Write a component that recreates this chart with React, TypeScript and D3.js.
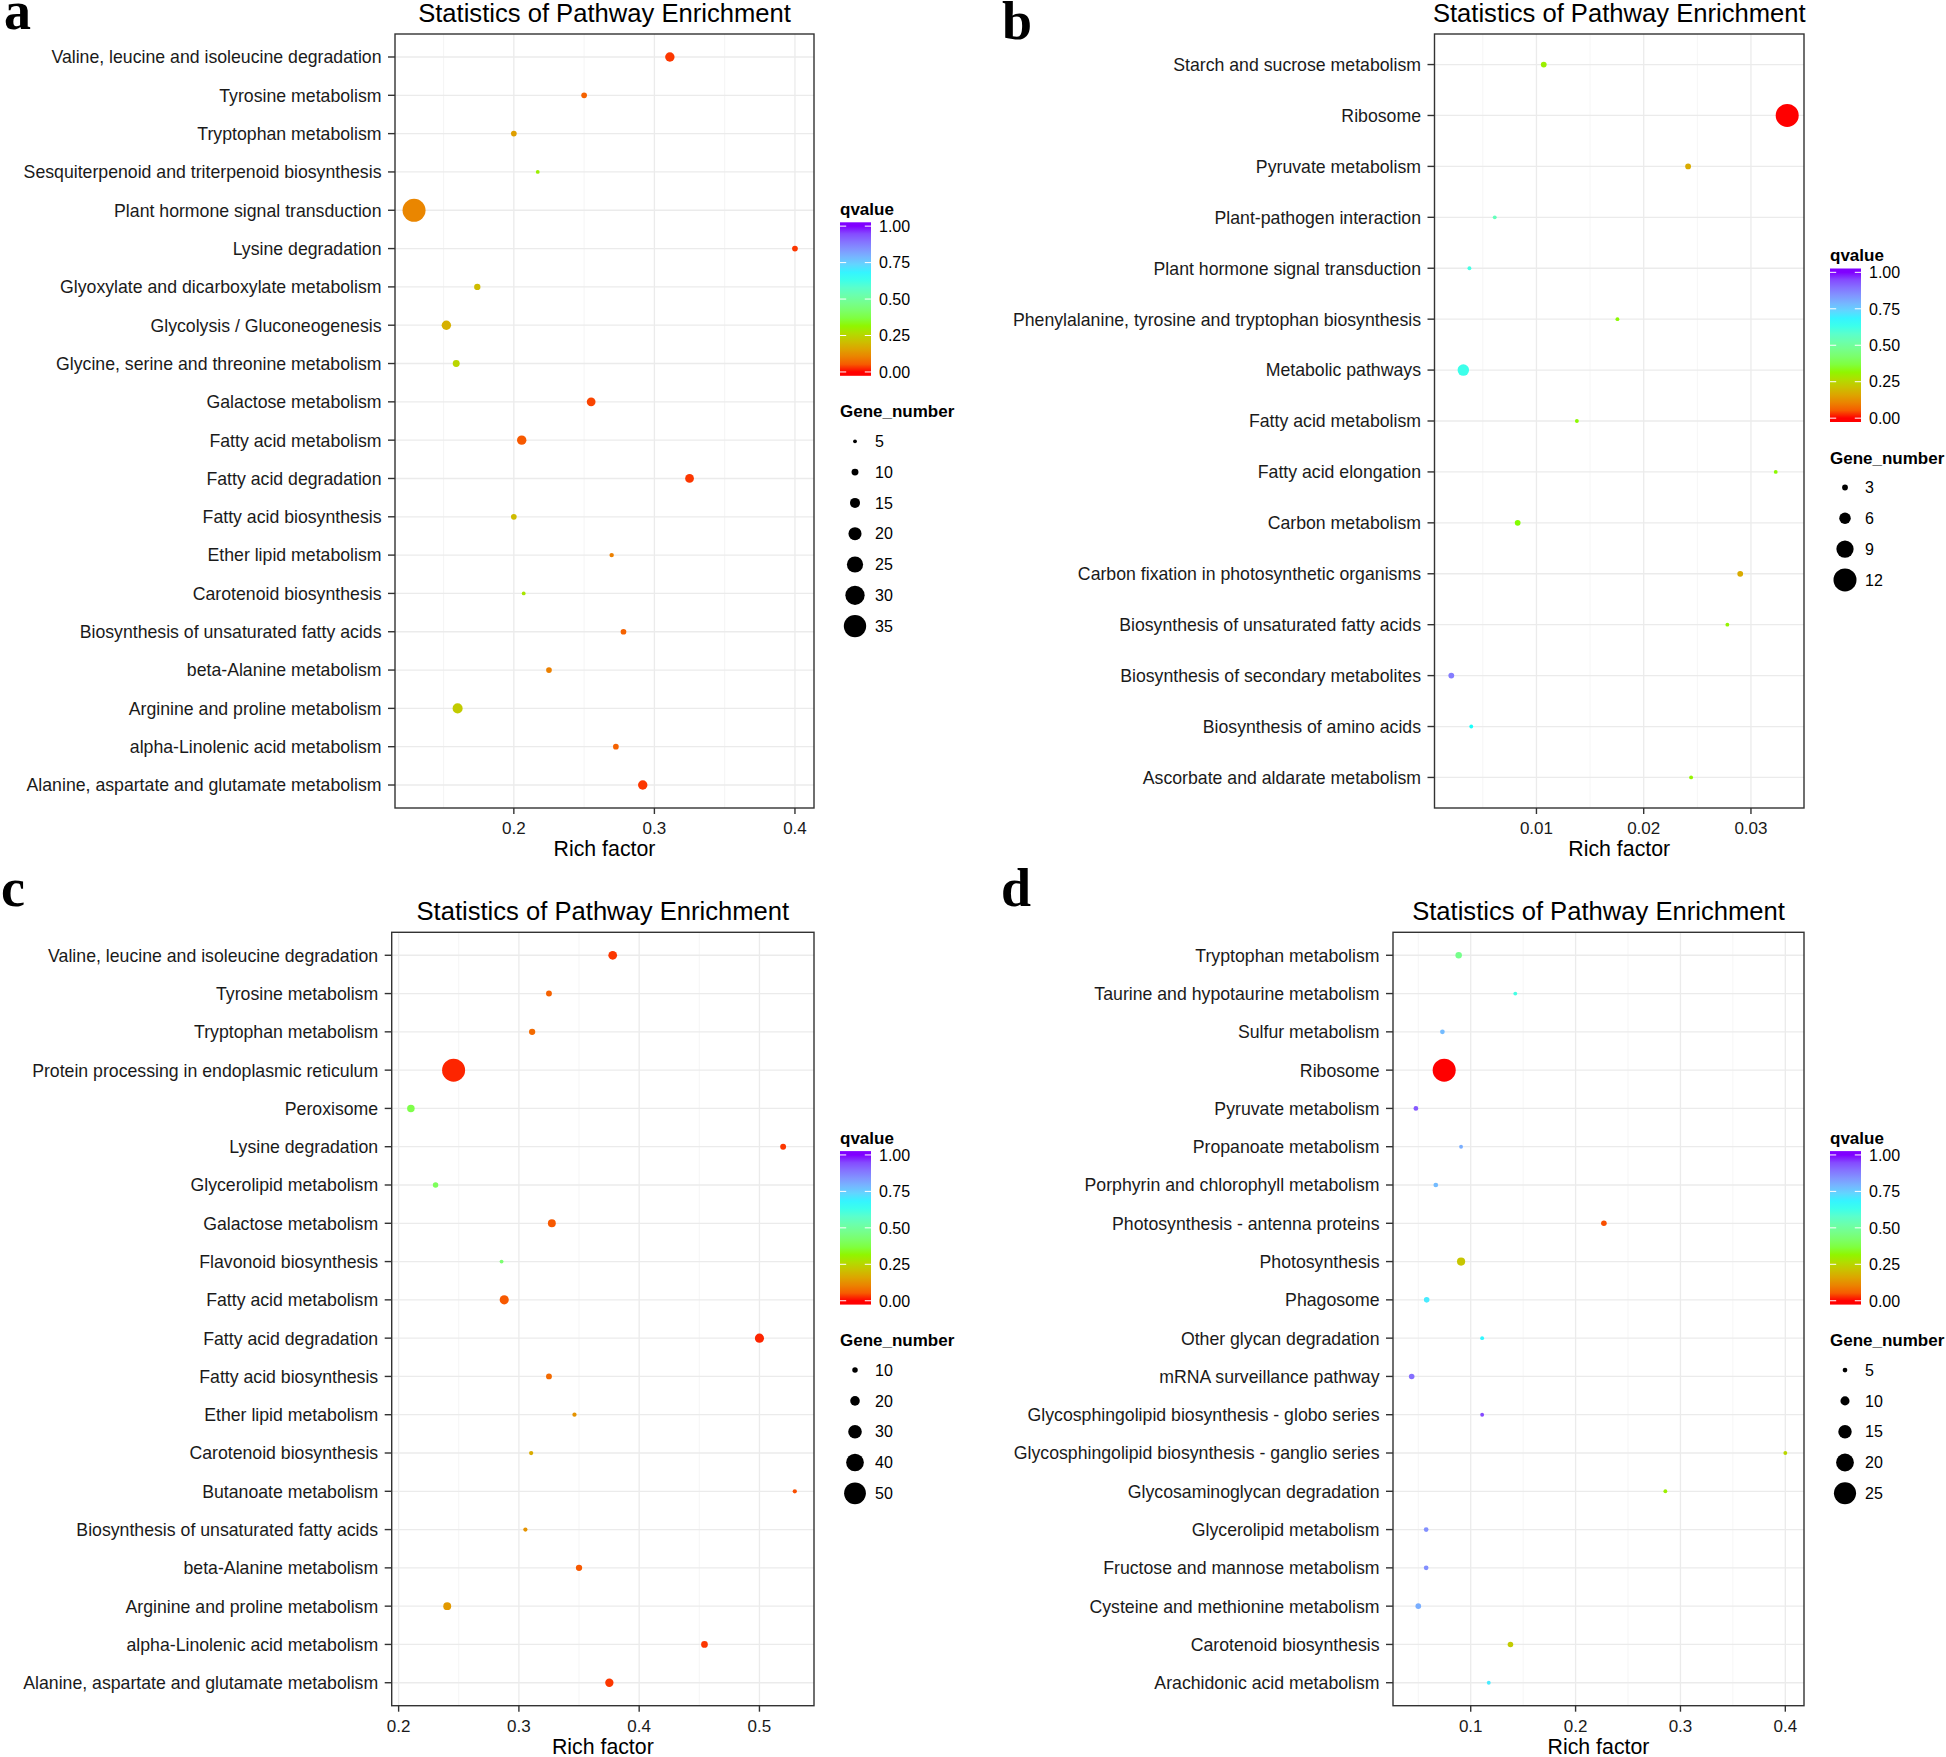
import React from "react";
import * as d3 from "d3";

// ---------------- DATA ----------------
// Panel a
const aPathways = [
  "Valine, leucine and isoleucine degradation",
  "Tyrosine metabolism",
  "Tryptophan metabolism",
  "Sesquiterpenoid and triterpenoid biosynthesis",
  "Plant hormone signal transduction",
  "Lysine degradation",
  "Glyoxylate and dicarboxylate metabolism",
  "Glycolysis / Gluconeogenesis",
  "Glycine, serine and threonine metabolism",
  "Galactose metabolism",
  "Fatty acid metabolism",
  "Fatty acid degradation",
  "Fatty acid biosynthesis",
  "Ether lipid metabolism",
  "Carotenoid biosynthesis",
  "Biosynthesis of unsaturated fatty acids",
  "beta-Alanine metabolism",
  "Arginine and proline metabolism",
  "alpha-Linolenic acid metabolism",
  "Alanine, aspartate and glutamate metabolism",
];
const aRichFactor = [0.311, 0.25, 0.2, 0.217, 0.129, 0.4, 0.174, 0.152, 0.159, 0.255, 0.2056, 0.325, 0.2, 0.2696, 0.207, 0.278, 0.225, 0.16, 0.2726, 0.2917];
const aQvalue = [0.02, 0.06, 0.15, 0.3, 0.11, 0.02, 0.2, 0.18, 0.25, 0.03, 0.05, 0.02, 0.2, 0.1, 0.28, 0.06, 0.1, 0.23, 0.06, 0.02];
const aGeneNumber = [14, 8, 8, 5, 36, 8, 9, 14, 10, 13, 14, 13, 8, 6, 5, 8, 8, 15, 8, 14];
const aXTicks = [0.2, 0.3, 0.4];
const aSizeBreaks = [5, 10, 15, 20, 25, 30, 35];

// Panel b
const bPathways = [
  "Starch and sucrose metabolism",
  "Ribosome",
  "Pyruvate metabolism",
  "Plant-pathogen interaction",
  "Plant hormone signal transduction",
  "Phenylalanine, tyrosine and tryptophan biosynthesis",
  "Metabolic pathways",
  "Fatty acid metabolism",
  "Fatty acid elongation",
  "Carbon metabolism",
  "Carbon fixation in photosynthetic organisms",
  "Biosynthesis of unsaturated fatty acids",
  "Biosynthesis of secondary metabolites",
  "Biosynthesis of amino acids",
  "Ascorbate and aldarate metabolism",
];
const bRichFactor = [0.01068, 0.03338, 0.02414, 0.00611, 0.00375, 0.01755, 0.00318, 0.01377, 0.03231, 0.00825, 0.029, 0.0278, 0.00206, 0.00392, 0.02442];
const bQvalue = [0.3, 0.0, 0.17, 0.55, 0.62, 0.32, 0.63, 0.32, 0.32, 0.33, 0.17, 0.31, 0.88, 0.66, 0.31];
const bGeneNumber = [3, 12, 3, 2, 2, 2, 6, 2, 2, 3, 3, 2, 3, 2, 2];
const bXTicks = [0.01, 0.02, 0.03];
const bSizeBreaks = [3, 6, 9, 12];

// Panel c
const cPathways = [
  "Valine, leucine and isoleucine degradation",
  "Tyrosine metabolism",
  "Tryptophan metabolism",
  "Protein processing in endoplasmic reticulum",
  "Peroxisome",
  "Lysine degradation",
  "Glycerolipid metabolism",
  "Galactose metabolism",
  "Flavonoid biosynthesis",
  "Fatty acid metabolism",
  "Fatty acid degradation",
  "Fatty acid biosynthesis",
  "Ether lipid metabolism",
  "Carotenoid biosynthesis",
  "Butanoate metabolism",
  "Biosynthesis of unsaturated fatty acids",
  "beta-Alanine metabolism",
  "Arginine and proline metabolism",
  "alpha-Linolenic acid metabolism",
  "Alanine, aspartate and glutamate metabolism",
];
const cRichFactor = [0.378, 0.325, 0.311, 0.2457, 0.2102, 0.5197, 0.2307, 0.3274, 0.2856, 0.2878, 0.5, 0.325, 0.3462, 0.3102, 0.5294, 0.3054, 0.35, 0.2404, 0.4543, 0.3752];
const cQvalue = [0.02, 0.06, 0.07, 0.01, 0.38, 0.02, 0.4, 0.05, 0.43, 0.05, 0.01, 0.07, 0.13, 0.17, 0.04, 0.13, 0.05, 0.14, 0.02, 0.02];
const cGeneNumber = [18, 11, 12, 53, 15, 11, 10, 16, 6, 19, 19, 11, 7, 7, 7, 7, 12, 16, 13, 17];
const cXTicks = [0.2, 0.3, 0.4, 0.5];
const cSizeBreaks = [10, 20, 30, 40, 50];

// Panel d
const dPathways = [
  "Tryptophan metabolism",
  "Taurine and hypotaurine metabolism",
  "Sulfur metabolism",
  "Ribosome",
  "Pyruvate metabolism",
  "Propanoate metabolism",
  "Porphyrin and chlorophyll metabolism",
  "Photosynthesis - antenna proteins",
  "Photosynthesis",
  "Phagosome",
  "Other glycan degradation",
  "mRNA surveillance pathway",
  "Glycosphingolipid biosynthesis - globo series",
  "Glycosphingolipid biosynthesis - ganglio series",
  "Glycosaminoglycan degradation",
  "Glycerolipid metabolism",
  "Fructose and mannose metabolism",
  "Cysteine and methionine metabolism",
  "Carotenoid biosynthesis",
  "Arachidonic acid metabolism",
];
const dRichFactor = [0.0885, 0.1425, 0.073, 0.0747, 0.0477, 0.0908, 0.0667, 0.227, 0.0908, 0.058, 0.1109, 0.0437, 0.1109, 0.4, 0.2856, 0.0575, 0.0575, 0.05, 0.1379, 0.1172];
const dQvalue = [0.47, 0.62, 0.78, 0.0, 0.93, 0.8, 0.78, 0.04, 0.22, 0.7, 0.68, 0.9, 0.95, 0.25, 0.3, 0.85, 0.85, 0.8, 0.23, 0.7];
const dGeneNumber = [7, 4, 5, 26, 5, 4, 5, 6, 9, 6, 4, 6, 4, 4, 4, 5, 5, 6, 6, 4];
const dXTicks = [0.1, 0.2, 0.3, 0.4];
const dSizeBreaks = [5, 10, 15, 20, 25];

const qvalueBreaks = [0, 0.25, 0.5, 0.75, 1];
const rainbowColours = ["#FF0000", "#80FF00", "#00FFFF", "#8000FF"];
const panelLetters = ["a", "b", "c", "d"];
const titleText = "Statistics of Pathway Enrichment";
const xTitleText = "Rich factor";

// ---------------- STYLE / LAYOUT ----------------
const FONT = "'Liberation Sans', Arial, Helvetica, sans-serif";
const SERIF = "'Liberation Serif', 'Times New Roman', Times, serif";
const D_MIN = 3.85;
const D_MAX = 23;

const colour = d3
  .scaleLinear<string>()
  .domain([0, 1 / 3, 2 / 3, 1])
  .range(rainbowColours)
  .interpolate(d3.interpolateLab);

type PanelData = {
  pathways: string[];
  rich: number[];
  q: number[];
  genes: number[];
  xTicks: number[];
  sizeBreaks: number[];
};

type Layout = {
  left: number;
  right: number;
  top: number;
  bottom: number;
  letterX: number;
  letterY: number;
  legendX: number;
};

const panelData: PanelData[] = [
  { pathways: aPathways, rich: aRichFactor, q: aQvalue, genes: aGeneNumber, xTicks: aXTicks, sizeBreaks: aSizeBreaks },
  { pathways: bPathways, rich: bRichFactor, q: bQvalue, genes: bGeneNumber, xTicks: bXTicks, sizeBreaks: bSizeBreaks },
  { pathways: cPathways, rich: cRichFactor, q: cQvalue, genes: cGeneNumber, xTicks: cXTicks, sizeBreaks: cSizeBreaks },
  { pathways: dPathways, rich: dRichFactor, q: dQvalue, genes: dGeneNumber, xTicks: dXTicks, sizeBreaks: dSizeBreaks },
];

const layouts: Layout[] = [
  { left: 395, right: 814, top: 34, bottom: 808, letterX: 4, letterY: 29, legendX: 840 },
  { left: 1434.5, right: 1804, top: 34, bottom: 808, letterX: 1002, letterY: 39, legendX: 1830 },
  { left: 391.7, right: 814, top: 932.3, bottom: 1705.7, letterX: 1, letterY: 906, legendX: 840 },
  { left: 1393, right: 1804, top: 932.3, bottom: 1705.7, letterX: 1001, letterY: 906, legendX: 1830 },
];

function Panel({ data, L, idx }: { data: PanelData; L: Layout; idx: number }) {
  const [mn, mx] = d3.extent(data.rich) as [number, number];
  const pad = (mx - mn) * 0.05;
  const x = d3.scaleLinear().domain([mn - pad, mx + pad]).range([L.left, L.right]);
  const y = d3.scalePoint<string>().domain(data.pathways).range([L.top, L.bottom]).padding(0.6);
  const gExt = d3.extent(data.genes) as [number, number];
  const diam = d3.scaleLinear().domain(gExt).range([D_MIN, D_MAX]);
  const step = data.xTicks[1] - data.xTicks[0];
  const [d0, d1] = x.domain();
  const minor = [...data.xTicks.map((t) => t - step / 2), data.xTicks[data.xTicks.length - 1] + step / 2].filter(
    (v) => v > d0 && v < d1
  );
  const cx = (L.left + L.right) / 2;
  const cy = (L.top + L.bottom) / 2;

  // legend
  const nKeys = data.sizeBreaks.length;
  const cbTop = cy - 90.9 - nKeys * 15.4;
  const cbH = 153.5;
  const cbW = 31;
  const cbBottom = cbTop + cbH;
  const qy = d3.scaleLinear().domain([0, 1]).range([cbBottom - cbH * 0.025, cbTop + cbH * 0.025]);
  const geneTitleY = cbBottom + 41.5;
  const key0 = geneTitleY + 24;
  const keySpacing = 30.8;
  const gradId = `cb-grad-${idx}`;
  const stops = d3.range(0, 20).map((i) => {
    const v = i / 19;
    return { off: (0.5 + 19 * v) / 20, col: colour(v) };
  });

  return (
    <g>
      {/* panel letter */}
      <text x={L.letterX} y={L.letterY} fontFamily={SERIF} fontWeight="bold" fontSize={54} fill="#000">
        {panelLetters[idx]}
      </text>
      {/* title */}
      <text x={cx} y={L.top - 12.3} textAnchor="middle" fontSize={25.6} fill="#000">
        {titleText}
      </text>
      {/* grid */}
      <rect x={L.left} y={L.top} width={L.right - L.left} height={L.bottom - L.top} fill="#fff" />
      {minor.map((v, i) => (
        <line key={"mi" + i} x1={x(v)} x2={x(v)} y1={L.top} y2={L.bottom} stroke="#f2f2f2" strokeWidth={0.8} />
      ))}
      {data.xTicks.map((v, i) => (
        <line key={"mj" + i} x1={x(v)} x2={x(v)} y1={L.top} y2={L.bottom} stroke="#ebebeb" strokeWidth={1.3} />
      ))}
      {data.pathways.map((p, i) => (
        <line key={"hy" + i} x1={L.left} x2={L.right} y1={y(p)!} y2={y(p)!} stroke="#ebebeb" strokeWidth={1.3} />
      ))}
      {/* points */}
      {data.pathways.map((p, i) => (
        <circle key={"pt" + i} cx={x(data.rich[i])} cy={y(p)!} r={diam(data.genes[i]) / 2} fill={colour(data.q[i])} />
      ))}
      {/* border */}
      <rect
        x={L.left}
        y={L.top}
        width={L.right - L.left}
        height={L.bottom - L.top}
        fill="none"
        stroke="#333"
        strokeWidth={1.4}
      />
      {/* y axis */}
      {data.pathways.map((p, i) => (
        <g key={"yl" + i}>
          <line x1={L.left - 7} x2={L.left} y1={y(p)!} y2={y(p)!} stroke="#333" strokeWidth={1.4} />
          <text x={L.left - 13.5} y={y(p)!} dy="0.36em" textAnchor="end" fontSize={17.7} fill="#1a1a1a">
            {p}
          </text>
        </g>
      ))}
      {/* x axis */}
      {data.xTicks.map((v, i) => (
        <g key={"xt" + i}>
          <line x1={x(v)} x2={x(v)} y1={L.bottom} y2={L.bottom + 6} stroke="#333" strokeWidth={1.4} />
          <text x={x(v)} y={L.bottom + 26.3} textAnchor="middle" fontSize={17} fill="#1a1a1a">
            {String(v)}
          </text>
        </g>
      ))}
      <text x={cx} y={L.bottom + 48} textAnchor="middle" fontSize={21.3} fill="#000">
        {xTitleText}
      </text>

      {/* colour legend */}
      <defs>
        <linearGradient id={gradId} x1="0" y1="1" x2="0" y2="0">
          {stops.map((s, i) => (
            <stop key={i} offset={s.off} stopColor={s.col} />
          ))}
        </linearGradient>
      </defs>
      <text x={L.legendX} y={cbTop - 7.5} fontSize={17} fontWeight="bold" fill="#000">
        qvalue
      </text>
      <rect x={L.legendX} y={cbTop} width={cbW} height={cbH} fill={`url(#${gradId})`} />
      {qvalueBreaks.map((v, i) => (
        <g key={"qb" + i}>
          <line x1={L.legendX} x2={L.legendX + cbW / 5} y1={qy(v)} y2={qy(v)} stroke="#fff" strokeWidth={1} />
          <line
            x1={L.legendX + cbW - cbW / 5}
            x2={L.legendX + cbW}
            y1={qy(v)}
            y2={qy(v)}
            stroke="#fff"
            strokeWidth={1}
          />
          <text x={L.legendX + 39} y={qy(v)} dy="0.36em" fontSize={16} fill="#000">
            {d3.format(".2f")(v)}
          </text>
        </g>
      ))}
      {/* size legend */}
      <text x={L.legendX} y={geneTitleY} fontSize={17} fontWeight="bold" fill="#000">
        Gene_number
      </text>
      {data.sizeBreaks.map((g, i) => (
        <g key={"sb" + i}>
          <circle cx={L.legendX + 15} cy={key0 + i * keySpacing} r={diam(g) / 2} fill="#000" />
          <text x={L.legendX + 35} y={key0 + i * keySpacing} dy="0.36em" fontSize={16} fill="#000">
            {String(g)}
          </text>
        </g>
      ))}
    </g>
  );
}

export default function App() {
  return (
    <svg
      width={1946}
      height={1757}
      style={{ position: "absolute", left: 0, top: 0, display: "block" }}
      fontFamily={FONT}
    >
      <rect x={0} y={0} width={1946} height={1757} fill="#fff" />
      {panelData.map((d, i) => (
        <Panel key={i} data={d} L={layouts[i]} idx={i} />
      ))}
    </svg>
  );
}
